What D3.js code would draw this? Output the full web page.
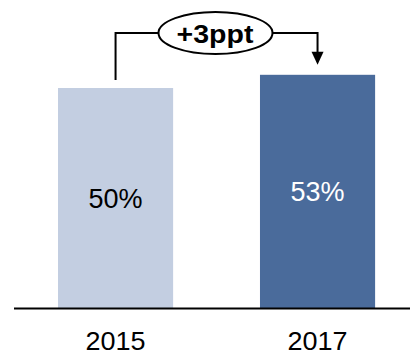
<!DOCTYPE html>
<html>
<head>
<meta charset="utf-8">
<script src="https://cdn.jsdelivr.net/npm/d3@7"></script>
<style>
  body { margin: 0; background: #fff; }
  text { font-family: "Liberation Sans", Arial, sans-serif; }
</style>
</head>
<body>
<div id="chart"></div>
<script>
var years = ["2015", "2017"];
var values = [50, 53];
var colors = ["#c3cee1", "#4a6b9b"];
var labelColors = ["#000", "#fff"];
var delta = "+3ppt";

var width = 410, height = 355;
var baseY = 308;

var svg = d3.select("#chart").append("svg")
    .attr("width", width)
    .attr("height", height);

// step ~202px, bars ~115px wide
var x = d3.scaleBand()
    .domain(years)
    .range([7.5, 425.6])
    .paddingInner(0.43)
    .paddingOuter(0.25);

var y = d3.scaleLinear()
    .domain([0, 50])
    .range([baseY, 88]);

// bars
svg.selectAll("rect.bar")
    .data(years)
    .enter().append("rect")
    .attr("class", "bar")
    .attr("x", d => x(d))
    .attr("width", x.bandwidth())
    .attr("y", (d, i) => y(values[i]))
    .attr("height", (d, i) => baseY - y(values[i]))
    .style("fill", (d, i) => colors[i]);

// value labels
svg.selectAll("text.val")
    .data(years)
    .enter().append("text")
    .attr("class", "val")
    .attr("x", d => x(d) + x.bandwidth() / 2)
    .attr("y", (d, i) => (y(values[i]) + baseY) / 2)
    .attr("dy", "0.36em")
    .attr("text-anchor", "middle")
    .style("font-size", "27px")
    .style("fill", (d, i) => labelColors[i])
    .text((d, i) => values[i] + "%");

// axis line
svg.append("line")
    .attr("x1", 14).attr("x2", 410)
    .attr("y1", baseY + 0.5).attr("y2", baseY + 0.5)
    .style("stroke", "#000")
    .style("stroke-width", 2);

// year labels
svg.selectAll("text.year")
    .data(years)
    .enter().append("text")
    .attr("class", "year")
    .attr("x", d => x(d) + x.bandwidth() / 2)
    .attr("y", 350)
    .attr("text-anchor", "middle")
    .attr("textLength", 60)
    .attr("lengthAdjust", "spacingAndGlyphs")
    .style("font-size", "25px")
    .style("fill", "#000")
    .text(d => d);

// bracket with delta bubble
var x1 = x(years[0]) + x.bandwidth() / 2;
var x2 = x(years[1]) + x.bandwidth() / 2;
var topY = 33;
var cx = 215.5, rx = 57, ry = 21;

svg.append("path")
    .attr("d", `M${x1},${y(values[0]) - 8}V${topY}H${cx - rx}`)
    .style("fill", "none")
    .style("stroke", "#000")
    .style("stroke-width", 2);

svg.append("path")
    .attr("d", `M${cx + rx},${topY}H${x2}V${y(values[1]) - 22}`)
    .style("fill", "none")
    .style("stroke", "#000")
    .style("stroke-width", 2);

svg.append("path")
    .attr("d", `M${x2 - 6},${y(values[1]) - 23}L${x2 + 6},${y(values[1]) - 23}L${x2},${y(values[1]) - 10}Z`)
    .style("fill", "#000");

svg.append("ellipse")
    .attr("cx", cx).attr("cy", topY)
    .attr("rx", rx).attr("ry", ry)
    .style("fill", "#fff")
    .style("stroke", "#000")
    .style("stroke-width", 2);

// wide bold label, stretched horizontally like the original
svg.append("text")
    .attr("transform", `translate(${cx - 0.5},43) scale(1.14,1)`)
    .attr("text-anchor", "middle")
    .style("font-size", "25px")
    .style("font-weight", "bold")
    .text(delta);
</script>
</body>
</html>
